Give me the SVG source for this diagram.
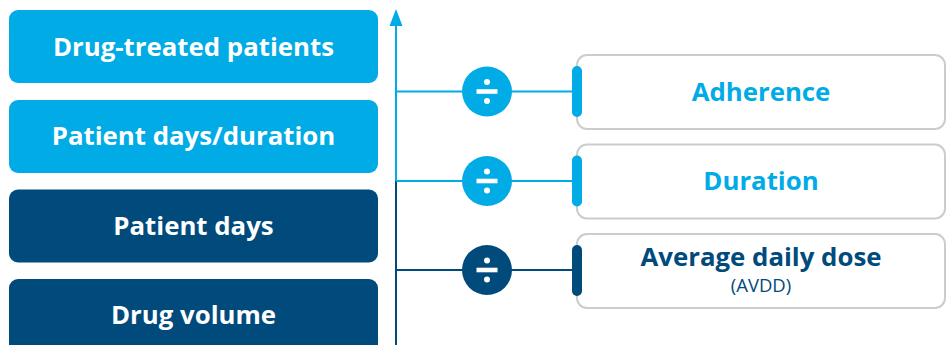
<svg xmlns="http://www.w3.org/2000/svg" width="949" height="345" viewBox="0 0 949 345">
<style>
.lb{fill:#00ABE6}
.db{fill:#004A7C}
.t{font-family:"Open Sans","Liberation Sans",sans-serif;font-weight:700;font-size:25.8px;text-anchor:middle}
.w{fill:#fff}
.card{fill:#fff;stroke:#CCCCCC;stroke-width:2}
.sub{font-family:"Open Sans","Liberation Sans",sans-serif;font-weight:400;font-size:18.5px;text-anchor:middle}
</style>
<defs>
<g id="div">
<rect x="-10.5" y="-2.3" width="21" height="4.6" fill="#fff"/>
<circle cx="0" cy="-9.5" r="3" fill="#fff"/>
<circle cx="0" cy="9.5" r="3" fill="#fff"/>
</g>
</defs>
<g id="connectors">
<line x1="396" y1="24" x2="396" y2="182" stroke="#00ABE6" stroke-width="2"/>
<polygon points="396,9 389.5,26 402.5,26" fill="#00ABE6"/>
<line x1="396" y1="181" x2="396" y2="345" stroke="#004A7C" stroke-width="2"/>
<line x1="396" y1="91.5" x2="574" y2="91.5" stroke="#00ABE6" stroke-width="2"/>
<line x1="396" y1="181" x2="574" y2="181" stroke="#00ABE6" stroke-width="2"/>
<line x1="396" y1="270" x2="574" y2="270" stroke="#004A7C" stroke-width="2"/>
</g>
<g id="n1"><rect x="9" y="10" width="369" height="73" rx="9" class="lb"/><text x="193.5" y="55.5" class="t w">Drug-treated patients</text></g>
<g id="n2"><rect x="9" y="100" width="369" height="73" rx="9" class="lb"/><text x="193.5" y="145" class="t w">Patient days/duration</text></g>
<g id="n3"><rect x="9" y="189.5" width="369" height="73" rx="9" class="db"/><text x="193.5" y="234.5" class="t w">Patient days</text></g>
<g id="n4"><rect x="9" y="279" width="369" height="90" rx="9" class="db"/><text x="193.5" y="324" class="t w">Drug volume</text></g>
<g id="op1"><circle cx="487" cy="91.5" r="25" class="lb"/><use href="#div" x="487" y="91.5"/></g>
<g id="op2"><circle cx="487" cy="181" r="25" class="lb"/><use href="#div" x="487" y="181"/></g>
<g id="op3"><circle cx="487" cy="270" r="25" class="db"/><use href="#div" x="487" y="270"/></g>
<g id="r1"><rect x="577" y="55" width="368" height="74" rx="10" class="card"/><rect x="572" y="66" width="10" height="51" rx="5" class="lb"/><text x="761" y="100.5" class="t lb">Adherence</text></g>
<g id="r2"><rect x="577" y="144.5" width="368" height="74" rx="10" class="card"/><rect x="572" y="155.5" width="10" height="51" rx="5" class="lb"/><text x="761" y="190" class="t lb">Duration</text></g>
<g id="r3"><rect x="577" y="234" width="368" height="74" rx="10" class="card"/><rect x="572" y="245" width="10" height="51" rx="5" class="db"/><text x="761" y="265.5" class="t db">Average daily dose</text><text x="761" y="292" class="sub db">(AVDD)</text></g>
</svg>
